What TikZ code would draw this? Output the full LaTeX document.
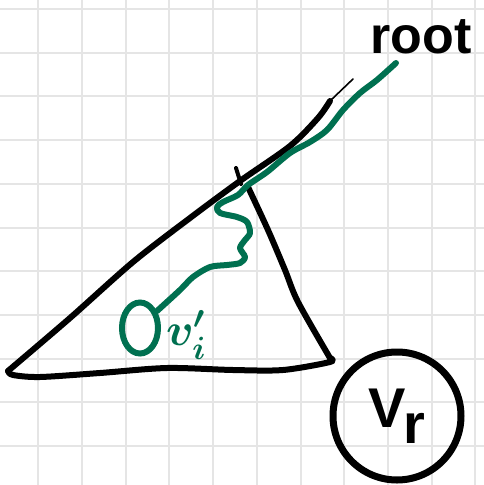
\RequirePackage{fix-cm}
\documentclass[tikz,border=0pt]{standalone}
\usepackage{fontspec}
\setsansfont{Liberation Sans}
\usetikzlibrary{shapes.geometric}
\definecolor{pathgreen}{RGB}{0,112,80}
\begin{document}
\begin{tikzpicture}[x=1pt, y=-1pt,
    ink/.style  = {draw=black, line width=6pt, line cap=round, line join=round},
    grn/.style  = {draw=pathgreen, line width=6pt, line cap=round, line join=round},
    gline/.style = {draw=black!10, line width=2pt},
    lbl/.style  = {inner sep=0pt, font=\fontsize{52}{52}\selectfont\sffamily\bfseries},
  ]
    \useasboundingbox (0,0) rectangle (484,485);
    \fill[white] (0,0) rectangle (484,485);

    % grid paper
    \foreach \k in {0,...,10} {
      \draw[gline] ({38.3+43.7*\k},0) -- ({38.3+43.7*\k},485);
      \draw[gline] (0,{9+43.7*\k}) -- (484,{9+43.7*\k});
    }

    % subtree
    \draw[ink] plot[smooth] coordinates {(8,371) (70,318) (133,262) (190,218)
                                         (240,181) (290,146) (318,118) (330,101)};
    \draw[black, line width=1.6pt, line cap=round] (330,101) -- (353,79);
    \draw[ink, line width=4pt] (236,168) -- (241,184);
    \draw[ink] plot[smooth] coordinates {(248,187) (268,230) (285,270)
                                         (298,302) (330,358)};
    \draw[ink] plot[smooth] coordinates {(330,358) (330,362) (283,370) (233,370)
                                         (167,368) (100,373) (40,377) (13,375)
                                         (8,371)};

    \node[lbl] (root) at (421,53) [anchor=base] {root};
    \node[ellipse, draw=pathgreen, line width=6pt, minimum width=36pt,
          minimum height=51pt, inner sep=0pt] (vi) at (140,328) {};
    \node[inner sep=0pt, anchor=base west, text=pathgreen,
          font=\fontsize{46}{46}\selectfont\boldmath] (vilbl) at (166,345) {$v'_i$};
    \node[circle, draw=black, line width=7pt, minimum size=128pt,
          inner sep=0pt] (vr) at (397,416) {};
    \node[lbl, font=\fontsize{56}{56}\selectfont\sffamily\bfseries]
          (vrlbl) at (vr.center) {V\kern-3pt\raisebox{-16pt}{r}};

    \coordinate (top) at (396,63);
    \draw[grn] plot[smooth] coordinates {(vi.45) (180,290) (193,277) (210,267)
               (227,265) (240,263) (245,257) (240,248) (245,240) (250,233)
               (247,222) (237,217) (220,213) (217,207) (223,202) (238,195)
               (248,185) (267,172) (290,153) (310,142) (327,130) (343,110)
               (360,93) (377,80) (top)};
\end{tikzpicture}
\end{document}
